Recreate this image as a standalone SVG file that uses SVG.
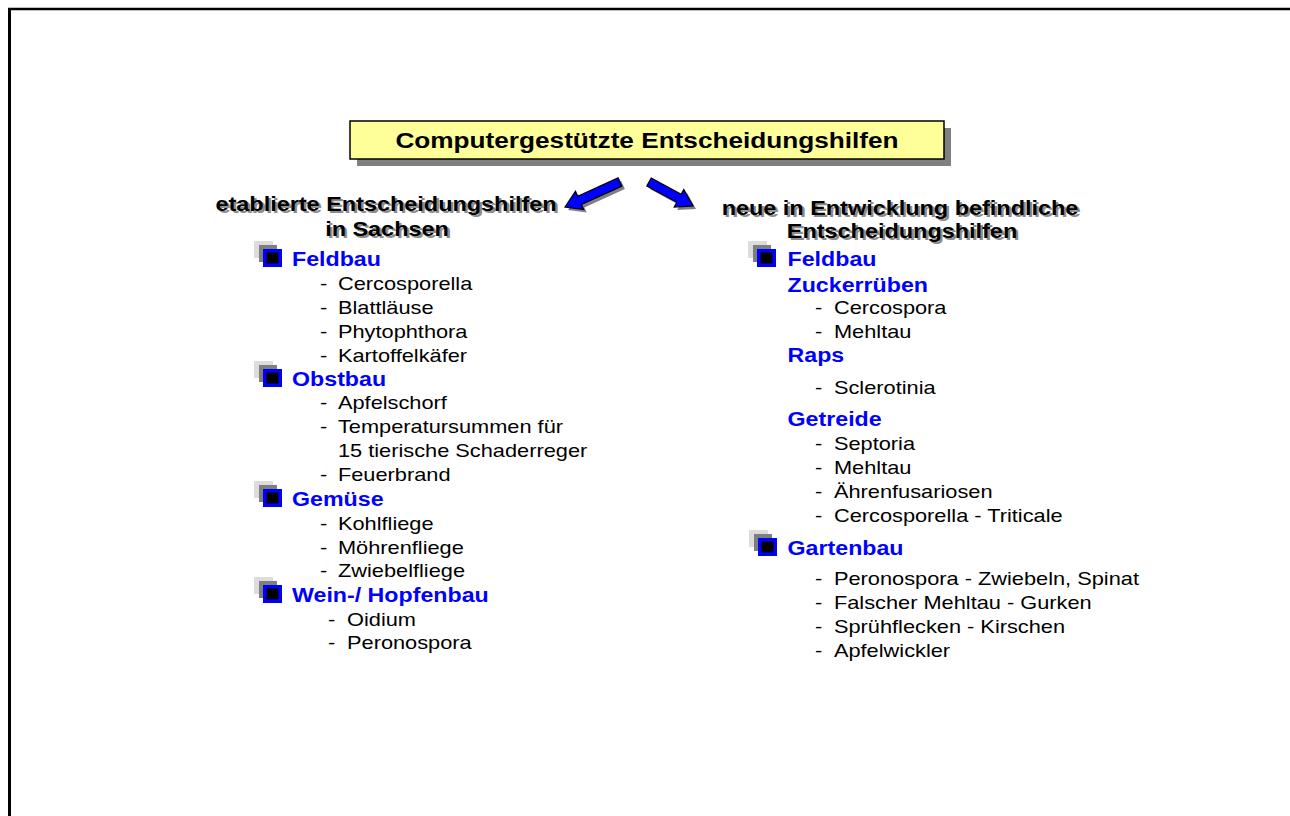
<svg xmlns="http://www.w3.org/2000/svg" xmlns:xlink="http://www.w3.org/1999/xlink" width="1290" height="816" viewBox="0 0 1290 816">
<style>
.t{font-family:"Liberation Sans",Arial,sans-serif;font-size:18.3px;fill:#000}
.b{font-family:"Liberation Sans",Arial,sans-serif;font-size:19.5px;font-weight:bold;fill:#0000FF}
.h{font-family:"Liberation Sans",Arial,sans-serif;font-size:19.7px;font-weight:bold;text-anchor:middle}
.hs{fill:#8c8c8c}
.hf{fill:#000}
.ttl{font-family:"Liberation Sans",Arial,sans-serif;font-size:22px;font-weight:bold;text-anchor:middle;fill:#000}
.arr{fill:#0000FF;stroke:#000;stroke-width:1.2;stroke-linejoin:miter}
.arrs{fill:#808080}
</style>
<defs>
<g id="bullet">
<rect x="-9" y="-8" width="19" height="17" fill="#dcdcdc"/>
<rect x="-4" y="-4" width="18" height="17" fill="#7f7f7f"/>
<rect x="0" y="0" width="19" height="18" fill="#0000FF"/>
<rect x="3.5" y="3.5" width="12" height="11" fill="#000"/>
</g>
</defs>
<rect width="1290" height="816" fill="#fff"/>
<line x1="9.5" y1="8" x2="9.5" y2="816" stroke="#000" stroke-width="3"/>
<line x1="8" y1="9" x2="1290" y2="9" stroke="#000" stroke-width="2.3"/>

<g id="title">
<rect x="357" y="128" width="594" height="38" fill="#808080"/>
<rect x="350" y="121" width="594" height="38" fill="#FFFF99" stroke="#000" stroke-width="1.5"/>
<g transform="scale(1.19 1)"><text class="ttl" x="543.7" y="148">Computergestützte Entscheidungshilfen</text></g>
</g>

<g id="connectors">
<polygon class="arrs" transform="translate(3 3)" points="618.1,177.9 577.7,196.3 575.5,191.3 565,207 583.7,209.5 581.4,204.5 621.9,186.1"/>
<polygon class="arr" points="618.1,177.9 577.7,196.3 575.5,191.3 565,207 583.7,209.5 581.4,204.5 621.9,186.1"/>
<polygon class="arrs" transform="translate(3 3)" points="651.2,178 681.2,194.4 683.8,189.5 693,206 674.2,207.1 676.8,202.3 646.8,186"/>
<polygon class="arr" points="651.2,178 681.2,194.4 683.8,189.5 693,206 674.2,207.1 676.8,202.3 646.8,186"/>
</g>

<g id="left-column">
<g transform="scale(1.19 1)">
<text class="h hs" x="326.4" y="213">etablierte Entscheidungshilfen</text>
<text class="h hf" x="324.4" y="211">etablierte Entscheidungshilfen</text>
<text class="h hs" x="327.2" y="238">in Sachsen</text>
<text class="h hf" x="325.2" y="236">in Sachsen</text>
</g>
<use xlink:href="#bullet" x="263" y="249"/>
<use xlink:href="#bullet" x="263" y="369"/>
<use xlink:href="#bullet" x="263" y="489"/>
<use xlink:href="#bullet" x="263" y="585"/>
<g transform="scale(1.19 1)">
<text class="b" x="245.4" y="266">Feldbau</text>
<text class="t" y="290"><tspan x="268.9">-</tspan><tspan x="284">Cercosporella</tspan></text>
<text class="t" y="314"><tspan x="268.9">-</tspan><tspan x="284">Blattläuse</tspan></text>
<text class="t" y="338"><tspan x="268.9">-</tspan><tspan x="284">Phytophthora</tspan></text>
<text class="t" y="362"><tspan x="268.9">-</tspan><tspan x="284">Kartoffelkäfer</tspan></text>
<text class="b" x="245.4" y="386">Obstbau</text>
<text class="t" y="409"><tspan x="268.9">-</tspan><tspan x="284">Apfelschorf</tspan></text>
<text class="t" y="433"><tspan x="268.9">-</tspan><tspan x="284">Temperatursummen für</tspan></text>
<text class="t" y="457"><tspan x="284">15 tierische Schaderreger</tspan></text>
<text class="t" y="481"><tspan x="268.9">-</tspan><tspan x="284">Feuerbrand</tspan></text>
<text class="b" x="245.4" y="506">Gemüse</text>
<text class="t" y="530"><tspan x="268.9">-</tspan><tspan x="284">Kohlfliege</tspan></text>
<text class="t" y="554"><tspan x="268.9">-</tspan><tspan x="284">Möhrenfliege</tspan></text>
<text class="t" y="577"><tspan x="268.9">-</tspan><tspan x="284">Zwiebelfliege</tspan></text>
<text class="b" x="245.4" y="602">Wein-/ Hopfenbau</text>
<text class="t" y="626"><tspan x="275.6">-</tspan><tspan x="291.6">Oidium</tspan></text>
<text class="t" y="649"><tspan x="275.6">-</tspan><tspan x="291.6">Peronospora</tspan></text>
</g>
</g>

<g id="right-column">
<g transform="scale(1.19 1)">
<text class="h hs" x="758.3" y="217">neue in Entwicklung befindliche</text>
<text class="h hf" x="756.3" y="215">neue in Entwicklung befindliche</text>
<text class="h hs" x="760" y="240">Entscheidungshilfen</text>
<text class="h hf" x="758" y="238">Entscheidungshilfen</text>
</g>
<use xlink:href="#bullet" x="757" y="249"/>
<use xlink:href="#bullet" x="758" y="538"/>
<g transform="scale(1.19 1)">
<text class="b" x="661.8" y="266">Feldbau</text>
<text class="b" x="661.8" y="292">Zuckerrüben</text>
<text class="t" y="314"><tspan x="684.9">-</tspan><tspan x="700.8">Cercospora</tspan></text>
<text class="t" y="338"><tspan x="684.9">-</tspan><tspan x="700.8">Mehltau</tspan></text>
<text class="b" x="661.8" y="362">Raps</text>
<text class="t" y="394"><tspan x="684.9">-</tspan><tspan x="700.8">Sclerotinia</tspan></text>
<text class="b" x="661.8" y="426">Getreide</text>
<text class="t" y="450"><tspan x="684.9">-</tspan><tspan x="700.8">Septoria</tspan></text>
<text class="t" y="474"><tspan x="684.9">-</tspan><tspan x="700.8">Mehltau</tspan></text>
<text class="t" y="498"><tspan x="684.9">-</tspan><tspan x="700.8">Ährenfusariosen</tspan></text>
<text class="t" y="522"><tspan x="684.9">-</tspan><tspan x="700.8">Cercosporella - Triticale</tspan></text>
<text class="b" x="661.8" y="555">Gartenbau</text>
<text class="t" y="585"><tspan x="684.9">-</tspan><tspan x="700.8">Peronospora - Zwiebeln, Spinat</tspan></text>
<text class="t" y="609"><tspan x="684.9">-</tspan><tspan x="700.8">Falscher Mehltau - Gurken</tspan></text>
<text class="t" y="633"><tspan x="684.9">-</tspan><tspan x="700.8">Sprühflecken - Kirschen</tspan></text>
<text class="t" y="657"><tspan x="684.9">-</tspan><tspan x="700.8">Apfelwickler</tspan></text>
</g>
</g>
</svg>
